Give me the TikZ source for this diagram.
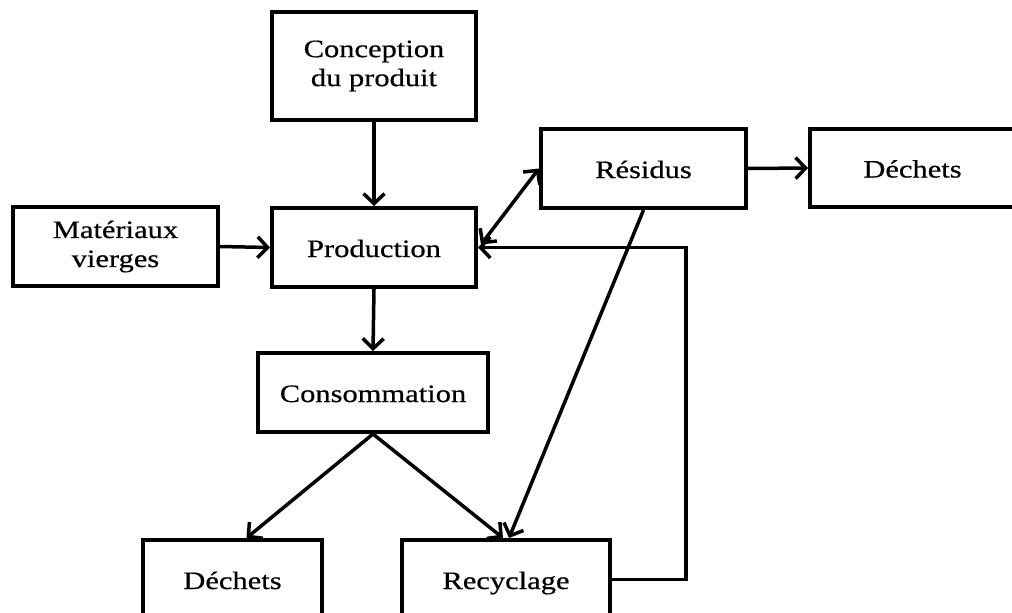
\documentclass[tikz,border=0pt]{standalone}
\usepackage{fontspec}
\setmainfont{Liberation Serif}[FakeStretch=1.22,FakeBold=0.6]
\usetikzlibrary{arrows.meta,calc}
\begin{document}
\begin{tikzpicture}[x=1pt,y=-1pt,
  box/.style={draw, line width=4pt, align=center, inner sep=0pt,
    font=\fontsize{25}{29}\selectfont},
  one/.style={text height=21pt, text depth=2pt},
  arr/.style={line width=3.5pt, -{Straight Barb[length=10pt,width=21pt,line width=3.5pt]}},
  darr/.style={line width=3.5pt, {Straight Barb[length=10pt,width=21pt,line width=3.5pt]}-{Straight Barb[length=10pt,width=21pt,line width=3.5pt]}}]
\useasboundingbox (0,0) rectangle (1012,613);
\node[box, minimum width=204pt, minimum height=108pt] (concep) at (374,66) {Conception\\du produit};
\node[box, minimum width=205pt, minimum height=79pt] (mat) at (115.5,246.5) {Matériaux\\vierges};
\node[box, one, minimum width=204pt, minimum height=79pt] (prod) at (374,247.5) {Production};
\node[box, one, minimum width=205pt, minimum height=79pt] (res) at (643.5,168.5) {Résidus};
\node[box, one, minimum width=205pt, minimum height=78pt] (dech1) at (912.5,168) {Déchets};
\node[box, one, minimum width=230pt, minimum height=79pt] (cons) at (373,392.5) {Consommation};
\node[box, one, minimum width=179pt, minimum height=79pt] (dech2) at (232.5,579.5) {Déchets};
\node[box, one, minimum width=208pt, minimum height=79pt] (recy) at (506,579.5) {Recyclage};
\coordinate (fb) at (686,0);
\draw[arr] (concep.south) -- (prod.north);
\draw[arr] (mat.east) -- (prod.west);
\draw[arr] (prod.south) -- (cons.north);
\draw[darr] ($(prod.east)+(3,-3)$) -- (res.west);
\draw[arr] (res.east) -- (dech1.west);
\draw[arr] (res.south) -- ($(recy.north)+(3,0)$);
\draw[arr] (cons.south) -- ($(dech2.north)+(14,0)$);
\draw[arr] (cons.south) -- ($(recy.north)+(-3,0)$);
\draw[arr] (recy.east) -| (fb |- prod.east) -- (prod.east);
\end{tikzpicture}
\end{document}
